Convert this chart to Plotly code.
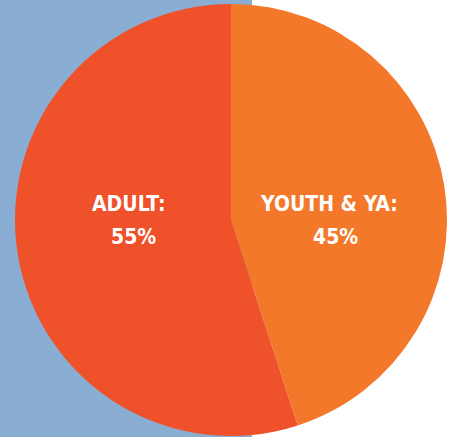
import plotly.graph_objects as go

labels = ["YOUTH & YA:", "ADULT:"]
values = [45, 55]
colors = ["#F47829", "#EF512A"]
label_x_px = [329, 129]
value_x_px = [335, 133]

W, H = 460, 437
cx, cy, r = 231, 220, 216

fig = go.Figure(go.Pie(
    labels=labels,
    values=values,
    textinfo="none",
    sort=False,
    direction="clockwise",
    rotation=0,
    marker=dict(colors=colors, line=dict(width=0)),
    hoverinfo="none",
    showlegend=False,
    domain=dict(x=[(cx - r) / W, (cx + r) / W], y=[(H - cy - r) / H, (H - cy + r) / H]),
))

font = dict(family="DejaVu Sans Condensed", size=21, color="white", weight="bold")
annotations = []
for l, v, lx, vx in zip(labels, values, label_x_px, value_x_px):
    annotations.append(dict(text=l, x=lx / W, y=(H - 204) / H, xref="paper", yref="paper",
                            showarrow=False, xanchor="center", yanchor="middle", font=font))
    annotations.append(dict(text=f"{v}%", x=vx / W, y=(H - 237) / H, xref="paper", yref="paper",
                            showarrow=False, xanchor="center", yanchor="middle", font=font))

fig.update_layout(
    width=W, height=H,
    margin=dict(l=0, r=0, t=0, b=0),
    paper_bgcolor="white",
    plot_bgcolor="white",
    annotations=annotations,
    shapes=[dict(type="rect", xref="paper", yref="paper", x0=0, x1=252 / W, y0=0, y1=1,
                 fillcolor="#8AADD3", line=dict(width=0), layer="below")],
)

fig.write_html("out.html", config={"displayModeBar": False},
               post_script="document.body.style.margin='0';document.body.style.overflow='hidden';")
